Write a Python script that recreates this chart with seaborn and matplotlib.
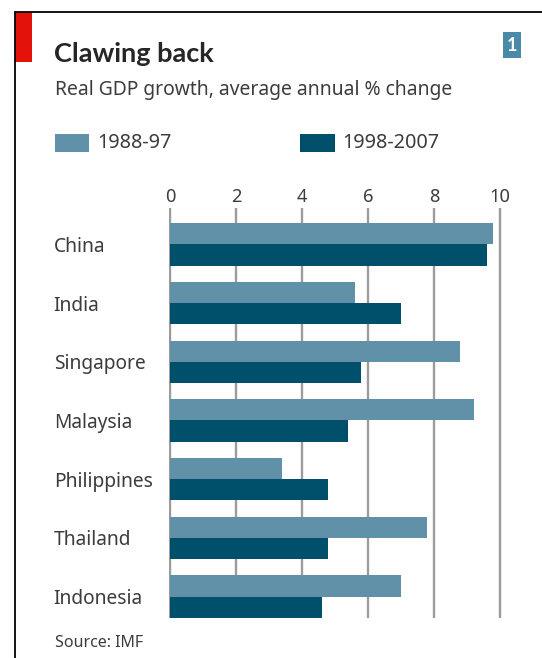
import matplotlib
matplotlib.use("Agg")
import matplotlib.pyplot as plt
from matplotlib.patches import Rectangle
from matplotlib.lines import Line2D
import seaborn as sns
import pandas as pd

# Data: real GDP growth, average annual % change (source: IMF)
countries = ["China", "India", "Singapore", "Malaysia", "Philippines", "Thailand", "Indonesia"]
periods = ["1988-97", "1998-2007"]
growth_1988_97 = [9.8, 5.6, 8.8, 9.2, 3.4, 7.8, 7.0]
growth_1998_2007 = [9.6, 7.0, 5.8, 5.4, 4.8, 4.8, 4.6]
x_ticks = [0, 2, 4, 6, 8, 10]

LIGHT = "#6091a8"
DARK = "#00506b"
TEXT = "#3c3c3c"

W, H = 542, 658
sns.set_theme(style="white")
plt.rcParams["font.family"] = ["Noto Sans", "DejaVu Sans"]

df = pd.DataFrame({
    "country": countries * 2,
    "period": [periods[0]] * len(countries) + [periods[1]] * len(countries),
    "growth": growth_1988_97 + growth_1998_2007,
})

fig = plt.figure(figsize=(W / 100, H / 100), dpi=100)
fig.patch.set_facecolor("white")


def fx(px):
    return px / W


def fy(py):
    return 1 - py / H


# plot area in pixel terms: x=0 sits at 170px, 33px per unit
XMIN, XMAX = -0.04, 10.5
left_px = 170 + XMIN * 33
right_px = 170 + XMAX * 33
ax = fig.add_axes([fx(left_px), fy(617.7), fx(right_px) - fx(left_px), fy(208) - fy(617.7)])

sns.barplot(
    data=df, y="country", x="growth", hue="period",
    order=countries, hue_order=periods, palette=[LIGHT, DARK],
    width=0.72, orient="h", saturation=1, legend=False,
    errorbar=None, linewidth=0, ax=ax,
)

ax.set_xlim(XMIN, XMAX)
ax.set_ylim(6.36, -0.62)
ax.set_xticks(x_ticks)
ax.set_xticklabels([str(t) for t in x_ticks])
ax.xaxis.tick_top()
ax.set_xlabel("")
ax.set_ylabel("")
for s in ax.spines.values():
    s.set_visible(False)
ax.set_axisbelow(True)
ax.grid(axis="x", color="#9c9c9c", linewidth=1.7)
ax.grid(axis="y", visible=False)
ax.tick_params(axis="x", length=0, pad=1.5, labelsize=13.2, labelcolor=TEXT)
ax.tick_params(axis="y", length=0, pad=(170 - 55) * 0.72, labelsize=13.8, labelcolor=TEXT)
for lbl in ax.get_yticklabels():
    lbl.set_horizontalalignment("left")

# frame lines and red tab
fig.add_artist(Line2D([fx(15), fx(15)], [fy(11.5), 0], color="black", lw=1.3))
fig.add_artist(Line2D([fx(15), 1], [fy(11.5), fy(11.5)], color="black", lw=1.3))
fig.add_artist(Rectangle((fx(14.5), fy(61.7)), fx(31.7) - fx(14.5), fy(11.5) - fy(61.7),
                         color="#e3120b", lw=0))

# chart number box
fig.add_artist(Rectangle((fx(503), fy(58.3)), fx(521) - fx(503), fy(31.7) - fy(58.3),
                         color="#4a8aa8", lw=0))
fig.text(fx(512), fy(45.5), "1", color="white", fontsize=13, fontweight="bold",
         family=["Lato", "DejaVu Sans"], ha="center", va="center")

# titles
fig.text(fx(54), fy(62), "Clawing back", fontsize=19.5, fontweight="bold",
         family=["Lato", "DejaVu Sans"], color="#262626", va="baseline")
fig.text(fx(55), fy(95), "Real GDP growth, average annual % change", fontsize=13.9,
         color=TEXT, va="baseline")

# legend
for (x0, x1, tx), label, col in zip([(55, 89, 97), (300, 335, 342)], periods, [LIGHT, DARK]):
    fig.add_artist(Rectangle((fx(x0), fy(152)), fx(x1) - fx(x0), fy(134) - fy(152),
                             color=col, lw=0))
    fig.text(fx(tx), fy(143.5), label, fontsize=14.3, color=TEXT, va="center")

# source note
fig.text(fx(55), fy(647), "Source: IMF", fontsize=11.5, color=TEXT, va="baseline")

fig.savefig("out.png", dpi=100, facecolor="white")
